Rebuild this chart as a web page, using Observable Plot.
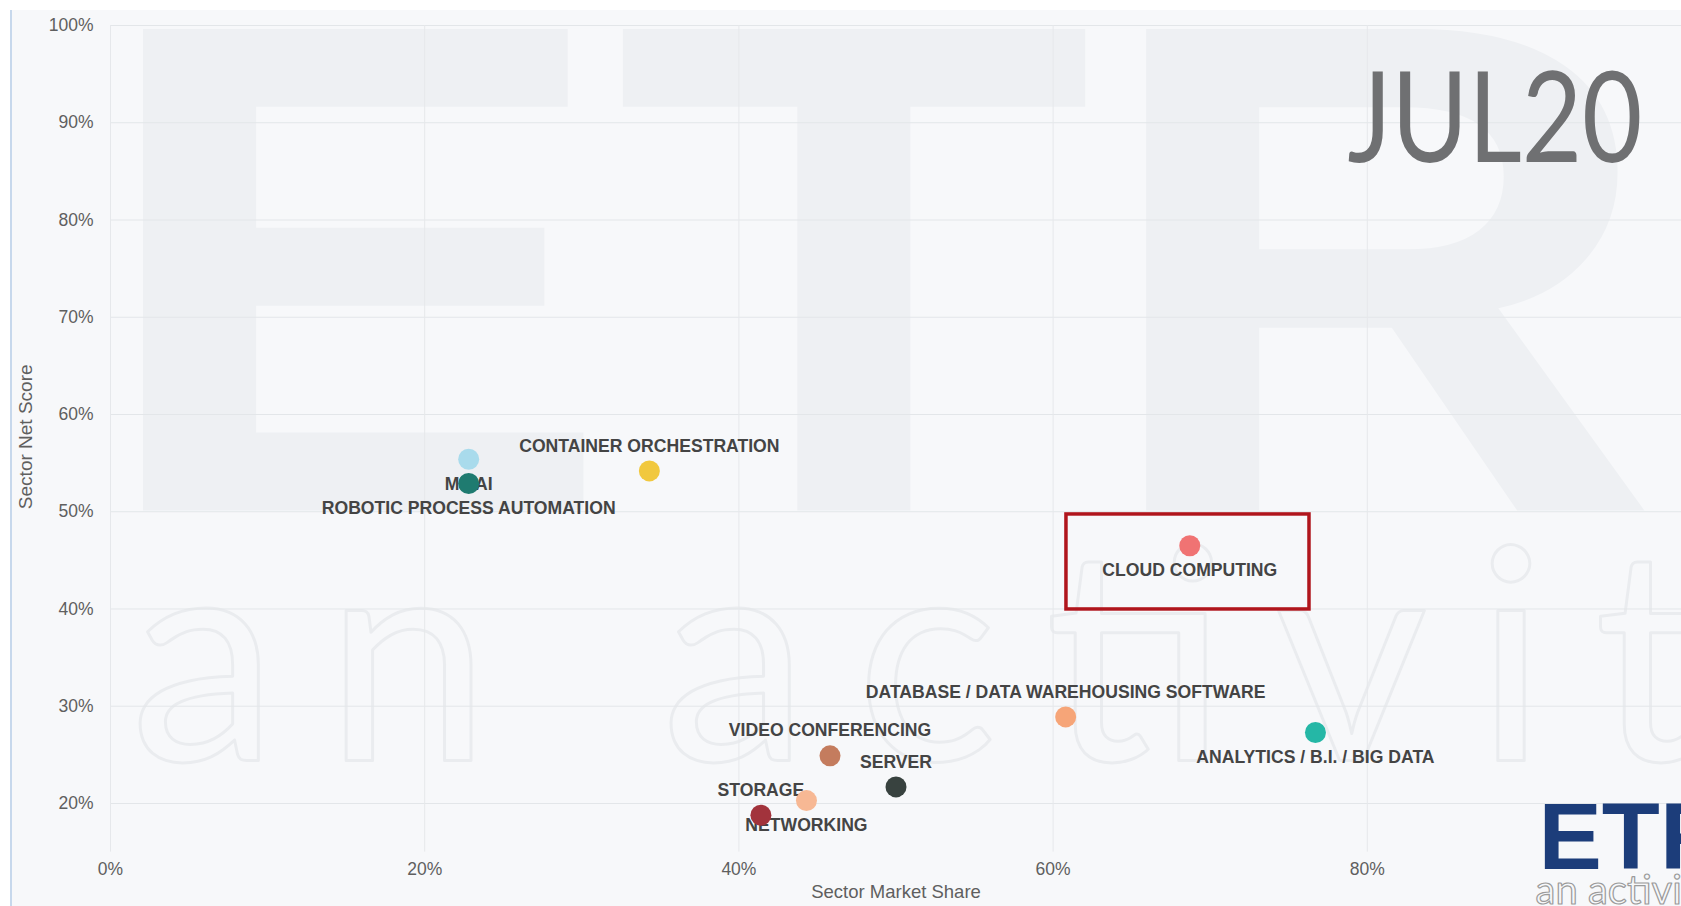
<!DOCTYPE html>
<html>
<head>
<meta charset="utf-8">
<script src="https://cdn.jsdelivr.net/npm/d3@7"></script>
<script src="https://cdn.jsdelivr.net/npm/@observablehq/plot@0.6"></script>
<style>
  html, body { margin: 0; padding: 0; background: #ffffff; }
  #chart svg { display: block; }
</style>
</head>
<body>
<div id="chart"></div>
<script>
// ---- data ----
const sectors = [
  "ML/AI",
  "ROBOTIC PROCESS AUTOMATION",
  "CONTAINER ORCHESTRATION",
  "CLOUD COMPUTING",
  "DATABASE / DATA WAREHOUSING SOFTWARE",
  "ANALYTICS / B.I. / BIG DATA",
  "VIDEO CONFERENCING",
  "SERVER",
  "NETWORKING",
  "STORAGE"
];
const marketShare = [22.8, 22.8, 34.3, 68.7, 60.8, 76.7, 45.8, 50.0, 44.3, 41.4];
const netScore    = [55.4, 52.9, 54.2, 46.5, 28.9, 27.3, 24.9, 21.7, 20.3, 18.8];
const dotColors   = ["#a9dbec", "#1f7b70", "#f1c83e", "#f07373", "#f6a578", "#25b7a6", "#c47c5e", "#38423f", "#f7b894", "#a2333c"];
const labelSide   = ["below", "below", "above", "below", "above", "below", "above", "above", "below", "above"];

const xTicks = [0, 20, 40, 60, 80];
const yTicks = [20, 30, 40, 50, 60, 70, 80, 90, 100];
const xTitle = "Sector Market Share";
const yTitle = "Sector Net Score";
const periodLabel = "JUL20";
const highlightBox = [{x1: 60.85, x2: 76.32, y1: 39.95, y2: 49.72}];

const data = sectors.map((s, i) => ({
  sector: s, share: marketShare[i], score: netScore[i], color: dotColors[i], side: labelSide[i]
}));

const pct = d => d + "%";
const sans = "'Liberation Sans', Arial, Helvetica, sans-serif";

const chart = Plot.plot({
  width: 1681,
  height: 906,
  marginLeft: 110,
  marginRight: 0,
  marginTop: 25,
  marginBottom: 54.4,
  x: {domain: [0, 100]},
  y: {domain: [15, 100]},
  color: {type: "identity"},
  style: {
    background: "#f7f8fa",
    boxShadow: "inset 10px 10px 0 #ffffff, inset 12px 0 0 #c7d8ec",
    fontFamily: sans,
    overflow: "hidden"
  },
  marks: [
    // watermarks
    Plot.text(["ETR"], {frameAnchor: "top-left", dx: -20, dy: 485, textAnchor: "start", lineAnchor: "bottom",
      fontSize: 700, fontWeight: "bold", fill: "#eef0f3", ariaDescription: "wm-etr"}),
    Plot.text(["an activity"], {frameAnchor: "top-left", dx: 20, dy: 735, textAnchor: "start", lineAnchor: "bottom",
      fontSize: 296, fontFamily: "Lato, 'Open Sans', sans-serif", fill: "none", stroke: "#eaecef", strokeWidth: 3,
      ariaDescription: "wm-activity"}),
    // grid
    Plot.gridY(yTicks, {stroke: "#e3e6e9", strokeOpacity: 1}),
    Plot.gridX(xTicks, {stroke: "#e6e8eb", strokeOpacity: 1}),
    // axes
    Plot.axisY(yTicks, {tickSize: 0, tickPadding: 17, tickFormat: pct, fontSize: 17.5, fill: "#5f5f5f", label: null}),
    Plot.axisX(xTicks, {tickSize: 0, tickPadding: 10, tickFormat: pct, fontSize: 17.5, fill: "#5f5f5f", label: null}),
    Plot.text([yTitle], {frameAnchor: "left", textAnchor: "middle", lineAnchor: "middle", dx: -85, dy: -2,
      rotate: -90, fontSize: 19, fill: "#5f5f5f"}),
    Plot.text([xTitle], {frameAnchor: "bottom", textAnchor: "middle", lineAnchor: "middle", dy: 40.4,
      fontSize: 18.5, fill: "#5f5f5f"}),
    // highlight box
    Plot.rect(highlightBox, {x1: "x1", x2: "x2", y1: "y1", y2: "y2", fill: "none", stroke: "#b0151c", strokeWidth: 3.5}),
    // labels
    Plot.text(data.filter(d => d.side === "above"), {x: "share", y: "score", text: "sector", dy: -25,
      fontSize: 17.6, fontWeight: "bold", fill: "#444444"}),
    Plot.text(data.filter(d => d.side === "below"), {x: "share", y: "score", text: "sector", dy: 25,
      fontSize: 17.6, fontWeight: "bold", fill: "#444444"}),
    // dots
    Plot.dot(data, {x: "share", y: "score", r: 10.5, fill: "color", stroke: null}),
    // period label
    Plot.text([periodLabel], {frameAnchor: "top-right", dx: -39, dy: 136, textAnchor: "end", lineAnchor: "bottom",
      fontSize: 127, fontFamily: "Lato, 'Open Sans', sans-serif", fill: "#6f7072", ariaDescription: "period"}),
    // logo
    Plot.text(["ETR"], {frameAnchor: "bottom-right", dx: -143, dy: 16.4, textAnchor: "start", lineAnchor: "bottom",
      fontSize: 95, fontWeight: "bold", fill: "#1c3d7a"}),
    Plot.text(["an activity"], {frameAnchor: "bottom-right", dx: -146, dy: 51.4, textAnchor: "start", lineAnchor: "bottom",
      fontSize: 40, fontFamily: "Lato, 'Open Sans', sans-serif", fill: "none", stroke: "#9b9b9b", strokeWidth: 1.2})
  ]
});

document.getElementById("chart").appendChild(chart);

// stretch a few decorative texts to their measured widths
const fit = (desc, len, adjust) => {
  d3.select(chart).selectAll(`g[aria-description="${desc}"] text`)
    .attr("textLength", len).attr("lengthAdjust", adjust);
};
fit("wm-etr", 1570, "spacingAndGlyphs");
fit("wm-activity", 1770, "spacing");
fit("period", 295, "spacingAndGlyphs");
</script>
</body>
</html>
